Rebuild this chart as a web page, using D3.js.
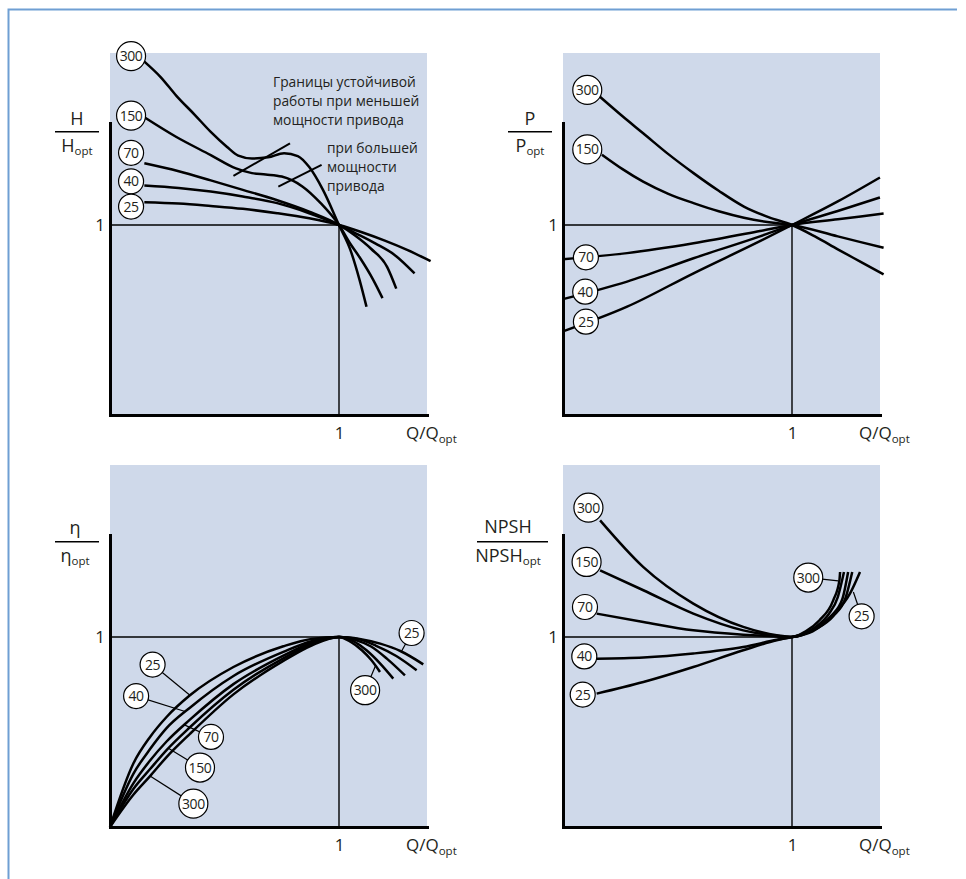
<!DOCTYPE html>
<html>
<head>
<meta charset="utf-8">
<script src="https://cdn.jsdelivr.net/npm/d3@7"></script>
<style>
  body { margin: 0; background: #fff; }
  text { font-family: "Open Sans", sans-serif; fill: #231f20; }
</style>
</head>
<body>
<div id="chart"></div>
<script>
// specific speed values nq used to tag the curves
var speeds = [25, 40, 70, 150, 300];

// H/Hopt against Q/Qopt
var head25  = [[0.15,1.12],[0.30,1.113],[0.44,1.10],[0.58,1.085],[0.73,1.062],[0.87,1.035],[1,1],[1.1,0.962],[1.2,0.918],[1.3,0.868],[1.4,0.81]];
var head40  = [[0.15,1.208],[0.30,1.195],[0.44,1.176],[0.58,1.15],[0.73,1.115],[0.87,1.062],[1,1],[1.08,0.952],[1.16,0.902],[1.24,0.845],[1.33,0.745]];
var head70  = [[0.15,1.325],[0.30,1.283],[0.44,1.235],[0.58,1.185],[0.73,1.13],[0.87,1.07],[1,1],[1.07,0.945],[1.14,0.875],[1.21,0.78],[1.25,0.665]];
var head150 = [[0.15,1.567],[0.29,1.463],[0.44,1.368],[0.55,1.298],[0.62,1.273],[0.68,1.266],[0.75,1.255],[0.84,1.203],[0.92,1.115],[1,1],[1.05,0.9],[1.09,0.83],[1.15,0.71],[1.19,0.615]];
var head300 = [[0.15,1.86],[0.22,1.78],[0.29,1.68],[0.37,1.58],[0.44,1.49],[0.51,1.412],[0.56,1.365],[0.62,1.35],[0.69,1.356],[0.76,1.378],[0.82,1.363],[0.87,1.305],[0.93,1.185],[1,1],[1.05,0.868],[1.09,0.71],[1.12,0.57]];
// stability limits: lower and higher drive power
var stabLow  = [[0.539,1.258],[0.786,1.43]];
var stabHigh = [[0.735,1.202],[0.924,1.316]];

// P/Popt against Q/Qopt
var power25  = [[0,0.44],[0.28,0.57],[0.57,0.746],[0.86,0.915],[1,1],[1.2,1.124],[1.384,1.25]];
var power40  = [[0,0.61],[0.28,0.702],[0.57,0.825],[0.86,0.94],[1,1],[1.2,1.074],[1.384,1.145]];
var power70  = [[0,0.82],[0.28,0.852],[0.57,0.904],[0.86,0.968],[1,1],[1.2,1.03],[1.4,1.06]];
var power150 = [[0.17,1.37],[0.26,1.294],[0.35,1.228],[0.46,1.164],[0.57,1.115],[0.68,1.072],[0.79,1.038],[0.9,1.014],[1,1],[1.2,0.94],[1.4,0.88]];
var power300 = [[0.16,1.676],[0.26,1.572],[0.35,1.483],[0.46,1.373],[0.57,1.273],[0.68,1.18],[0.79,1.097],[0.9,1.04],[1,1],[1.1,0.94],[1.2,0.872],[1.3,0.806],[1.4,0.74]];

// eta/eta_opt against Q/Qopt
var eta25  = [[0,0],[0.102,0.334],[0.175,0.474],[0.247,0.579],[0.349,0.693],[0.539,0.842],[0.757,0.951],[0.88,0.99],[1,1],[1.09,0.99],[1.18,0.965],[1.27,0.925],[1.368,0.856]];
var eta40  = [[0,0],[0.102,0.28],[0.175,0.41],[0.247,0.52],[0.349,0.628],[0.539,0.795],[0.757,0.922],[0.88,0.978],[1,1],[1.08,0.99],[1.16,0.955],[1.25,0.9],[1.339,0.825]];
var eta70  = [[0,0],[0.102,0.23],[0.175,0.35],[0.247,0.45],[0.349,0.565],[0.539,0.752],[0.757,0.902],[0.88,0.97],[1,1],[1.07,0.985],[1.14,0.95],[1.21,0.885],[1.288,0.798]];
var eta150 = [[0,0],[0.102,0.2],[0.175,0.305],[0.247,0.405],[0.349,0.525],[0.539,0.722],[0.757,0.888],[0.88,0.962],[1,1],[1.06,0.98],[1.12,0.93],[1.18,0.86],[1.237,0.781]];
var eta300 = [[0,0],[0.102,0.17],[0.175,0.268],[0.247,0.368],[0.349,0.49],[0.539,0.698],[0.757,0.874],[0.88,0.955],[1,1],[1.05,0.975],[1.1,0.93],[1.14,0.88],[1.179,0.816]];

// NPSH/NPSHopt against Q/Qopt
var npsh25  = [[0.147,0.702],[0.351,0.763],[0.569,0.842],[0.787,0.93],[0.933,0.983],[1,1],[1.09,1.03],[1.18,1.115],[1.253,1.228],[1.297,1.342]];
var npsh40  = [[0.147,0.886],[0.351,0.892],[0.569,0.913],[0.787,0.947],[0.933,0.985],[1,1],[1.10,1.04],[1.18,1.11],[1.235,1.21],[1.263,1.342]];
var npsh70  = [[0.147,1.123],[0.351,1.079],[0.569,1.035],[0.787,1.012],[0.933,1.003],[1,1],[1.10,1.045],[1.17,1.11],[1.22,1.2],[1.245,1.342]];
var npsh150 = [[0.162,1.351],[0.351,1.246],[0.569,1.123],[0.787,1.035],[0.933,1.006],[1,1],[1.10,1.05],[1.16,1.12],[1.20,1.21],[1.227,1.342]];
var npsh300 = [[0.162,1.614],[0.351,1.368],[0.569,1.176],[0.787,1.053],[0.933,1.009],[1,1],[1.06,1.03],[1.12,1.088],[1.18,1.193],[1.207,1.298],[1.21,1.342]];

// circled tags: [x, y, text] or [x, y, text, leaderX, leaderY]
var headTags  = [[0.092,1.889,"300"],[0.092,1.576,"150"],[0.092,1.38,"70"],[0.092,1.23,"40"],[0.092,1.097,"25"]];
var powerTags = [[0.106,1.711,"300"],[0.106,1.398,"150"],[0.1,0.83,"70"],[0.097,0.649,"40"],[0.1,0.491,"25"]];
var etaTags   = [[0.186,0.855,"25",0.349,0.693],[0.114,0.689,"40",0.328,0.608],[0.441,0.474,"70",0.32,0.54],
                 [0.393,0.313,"150",0.255,0.415],[0.364,0.123,"300",0.175,0.268],
                 [1.317,1.021,"25",1.273,0.925],[1.114,0.72,"300",1.16,0.85]];
var npshTags  = [[0.111,1.681,"300"],[0.103,1.395,"150"],[0.096,1.158,"70"],[0.093,0.898,"40"],[0.086,0.697,"25"],
                 [1.071,1.313,"300",1.202,1.295],[1.304,1.109,"25",1.268,1.237]];

var tickOne = [1];

// ---------------------------------------------------------------
var svgWidth = 966, svgHeight = 879;
var panelW = 317, panelH = 362;
var xMax = panelW / 229, yMax = panelH / 190, yAxisTop = 292 / 190;

var svg = d3.select("#chart").append("svg")
  .attr("width", svgWidth)
  .attr("height", svgHeight);

// page frame (left and top rules)
svg.append("path")
  .attr("d", "M8.5,879V9.5H957")
  .attr("fill", "none")
  .attr("stroke", "#6f9fd3")
  .attr("stroke-width", 2);

var panels = [
  { left: 110, top: 53, curves: [head25, head40, head70, head150, head300], tags: headTags, marks: [stabLow, stabHigh],
    ylab: { num: "H", den: "H", x1: -55, x2: -11, cx: -33, line: 78.7, numY: 72, denY: 99 } },
  { left: 563, top: 53, curves: [power25, power40, power70, power150, power300], tags: powerTags, marks: [],
    ylab: { num: "P", den: "P", x1: -55, x2: -11, cx: -33, line: 78.7, numY: 72, denY: 99 } },
  { left: 110, top: 465, curves: [eta25, eta40, eta70, eta150, eta300], tags: etaTags, marks: [],
    ylab: { num: "η", den: "η", x1: -55, x2: -11, cx: -35, line: 76.7, numY: 69, denY: 96.7 } },
  { left: 563, top: 465, curves: [npsh25, npsh40, npsh70, npsh150, npsh300], tags: npshTags, marks: [],
    ylab: { num: "NPSH", den: "NPSH", x1: -86, x2: -15, cx: -55, line: 76.7, numY: 68, denY: 96.7 } }
];

panels.forEach(drawPanel);

function drawPanel(p) {
  var g = svg.append("g").attr("transform", `translate(${p.left},${p.top})`);

  var x = d3.scaleLinear().domain([0, xMax]).range([0, panelW]);
  var y = d3.scaleLinear().domain([0, yMax]).range([panelH, 0]);

  g.append("rect")
    .attr("width", panelW)
    .attr("height", panelH)
    .attr("fill", "#cfd9ea");

  // reference lines at the best efficiency point
  g.append("line")
    .attr("x1", x(0)).attr("x2", x(1))
    .attr("y1", y(1)).attr("y2", y(1))
    .attr("stroke", "#000").attr("stroke-width", 1.4);
  g.append("line")
    .attr("x1", x(1)).attr("x2", x(1))
    .attr("y1", y(0)).attr("y2", y(1))
    .attr("stroke", "#000").attr("stroke-width", 1.4);

  var line = d3.line()
    .x(d => x(d[0]))
    .y(d => y(d[1]))
    .curve(d3.curveMonotoneX);

  g.append("g").selectAll("path")
    .data(p.marks)
    .enter()
    .append("path")
    .attr("d", d3.line().x(d => x(d[0])).y(d => y(d[1])))
    .attr("fill", "none")
    .attr("stroke", "#000")
    .attr("stroke-width", 2);

  g.append("g").selectAll("path")
    .data(p.curves)
    .enter()
    .append("path")
    .attr("d", line)
    .attr("fill", "none")
    .attr("stroke", "#000")
    .attr("stroke-width", 2.5)
    .attr("stroke-linecap", "butt");

  // leaders for tags placed away from the curve ends
  g.append("g").selectAll("line")
    .data(p.tags.filter(d => d.length > 3))
    .enter()
    .append("line")
    .attr("x1", d => x(d[0])).attr("y1", d => y(d[1]))
    .attr("x2", d => x(d[3])).attr("y2", d => y(d[4]))
    .attr("stroke", "#000").attr("stroke-width", 1.2);

  // axes
  var yAxisScale = y.copy().domain([0, yAxisTop]).range([y(0), y(yAxisTop)]);
  var yAxis = g.append("g")
    .call(d3.axisLeft(yAxisScale).tickValues(tickOne).tickSize(0).tickPadding(5).tickFormat(d3.format("d")));
  var xAxis = g.append("g")
    .attr("transform", `translate(0,${panelH})`)
    .call(d3.axisBottom(x).tickValues(tickOne).tickSize(0).tickPadding(12).tickFormat(d3.format("d")));
  [yAxis, xAxis].forEach(function(a) {
    a.select(".domain").attr("stroke", "#000").attr("stroke-width", 3).attr("stroke-linecap", "square");
    a.selectAll("text").attr("font-size", 17);
  });

  // circled tags
  var tag = g.append("g").selectAll("g")
    .data(p.tags)
    .enter()
    .append("g")
    .attr("transform", d => `translate(${x(d[0])},${y(d[1])})`);
  tag.append("circle")
    .attr("r", d => d[2].length > 2 ? 14.5 : 12.5)
    .attr("fill", "#fff")
    .attr("stroke", "#000")
    .attr("stroke-width", 1.2);
  tag.append("text")
    .attr("text-anchor", "middle")
    .attr("dy", "0.36em")
    .attr("font-size", 14)
    .attr("letter-spacing", -0.4)
    .text(d => d[2]);

  // x label
  var q = g.append("text")
    .attr("x", 296)
    .attr("y", panelH + 24)
    .attr("font-size", 17);
  q.append("tspan").text("Q/Q");
  q.append("tspan").attr("font-size", 11.5).attr("dy", 4).text("opt");

  // y label as a fraction
  var yl = p.ylab;
  g.append("line")
    .attr("x1", yl.x1).attr("x2", yl.x2)
    .attr("y1", yl.line).attr("y2", yl.line)
    .attr("stroke", "#000").attr("stroke-width", 1.5);
  g.append("text")
    .attr("x", yl.cx)
    .attr("y", yl.numY)
    .attr("text-anchor", "middle")
    .attr("font-size", 18)
    .text(yl.num);
  var den = g.append("text")
    .attr("x", yl.cx)
    .attr("y", yl.denY)
    .attr("text-anchor", "middle")
    .attr("font-size", 18);
  den.append("tspan").text(yl.den);
  den.append("tspan").attr("font-size", 11.5).attr("dy", 3).text("opt");

  return g;
}

// notes on the head panel
var notes = svg.append("g").attr("transform", "translate(110,53)");
var note1 = notes.append("text").attr("font-size", 13.8);
["Границы устойчивой", "работы при меньшей", "мощности привода"].forEach(function(t, i) {
  note1.append("tspan").attr("x", 163).attr("y", 34 + i * 19).text(t);
});
var note2 = notes.append("text").attr("font-size", 13.8);
["при большей", "мощности", "привода"].forEach(function(t, i) {
  note2.append("tspan").attr("x", 217).attr("y", 100 + i * 19).text(t);
});
</script>
</body>
</html>
